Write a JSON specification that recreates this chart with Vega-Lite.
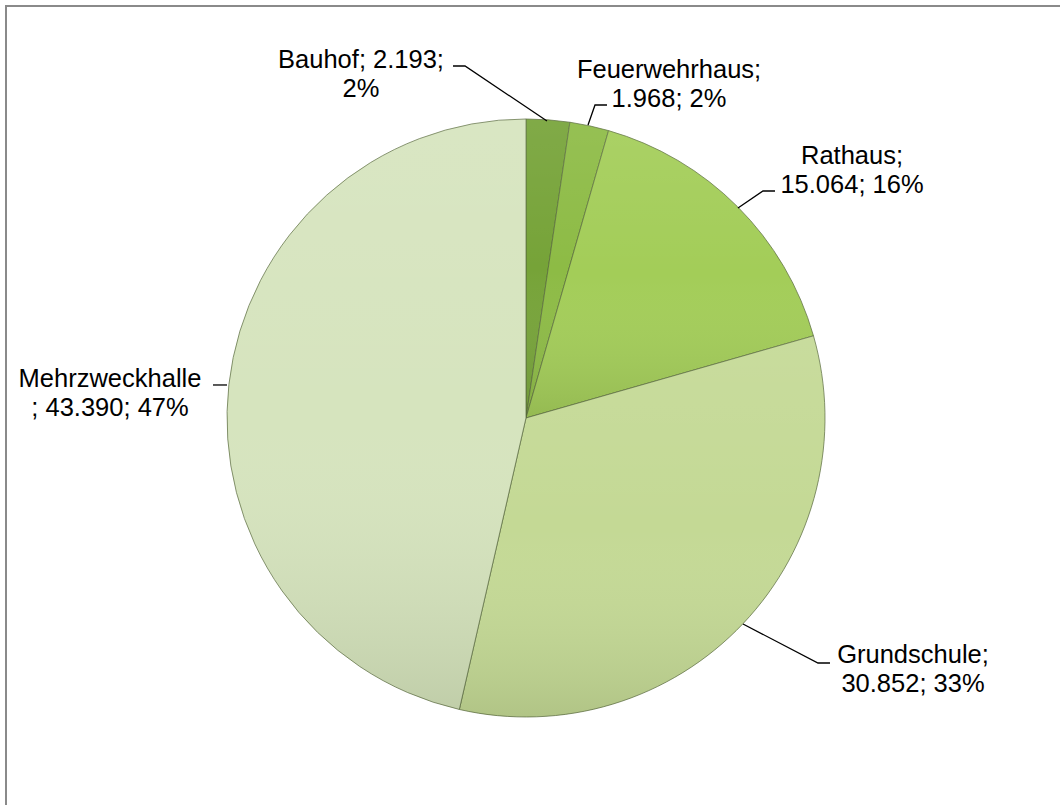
{
  "$schema": "https://vega.github.io/schema/vega-lite/v6.json",
  "width": 1060,
  "height": 805,
  "autosize": "none",
  "padding": {"left": 6, "top": 6, "right": -6, "bottom": -6},
  "background": "white",
  "config": {"view": {"stroke": "#8a8a8a", "strokeWidth": 2}},
  "datasets": {
    "slices": [
      {"name": "Bauhof", "value": 2193, "order": 1},
      {"name": "Feuerwehrhaus", "value": 1968, "order": 2},
      {"name": "Rathaus", "value": 15064, "order": 3},
      {"name": "Grundschule", "value": 30852, "order": 4},
      {"name": "Mehrzweckhalle", "value": 43390, "order": 5}
    ],
    "labels": [
      {"name": "Bauhof", "lines": ["Bauhof; 2.193;", "2%"], "u": -0.5518, "v": 1.1706},
      {"name": "Feuerwehrhaus", "lines": ["Feuerwehrhaus;", "1.968; 2%"], "u": 0.4783, "v": 1.1371},
      {"name": "Rathaus", "lines": ["Rathaus;", "15.064; 16%"], "u": 1.0903, "v": 0.8495},
      {"name": "Grundschule", "lines": ["Grundschule;", "30.852; 33%"], "u": 1.2943, "v": -0.8194},
      {"name": "Mehrzweckhalle", "lines": ["Mehrzweckhalle", "; 43.390; 47%"], "u": -1.3913, "v": 0.1037}
    ],
    "leaders": [
      {"name": "Bauhof", "seq": 1, "u": -0.2441, "v": 1.1773},
      {"name": "Bauhof", "seq": 2, "u": -0.2040, "v": 1.1773},
      {"name": "Bauhof", "seq": 3, "u": 0.0702, "v": 0.9933},
      {"name": "Feuerwehrhaus", "seq": 1, "u": 0.2709, "v": 1.0468},
      {"name": "Feuerwehrhaus", "seq": 2, "u": 0.2308, "v": 1.0468},
      {"name": "Feuerwehrhaus", "seq": 3, "u": 0.2074, "v": 0.9799},
      {"name": "Rathaus", "seq": 1, "u": 0.8328, "v": 0.7592},
      {"name": "Rathaus", "seq": 2, "u": 0.7926, "v": 0.7592},
      {"name": "Rathaus", "seq": 3, "u": 0.7090, "v": 0.7023},
      {"name": "Grundschule", "seq": 1, "u": 1.0167, "v": -0.8194},
      {"name": "Grundschule", "seq": 2, "u": 0.9766, "v": -0.8194},
      {"name": "Grundschule", "seq": 3, "u": 0.7258, "v": -0.6890},
      {"name": "Mehrzweckhalle", "seq": 1, "u": -1.0468, "v": 0.1104},
      {"name": "Mehrzweckhalle", "seq": 2, "u": -1.0000, "v": 0.1104}
    ]
  },
  "layer": [
    {
      "data": {"name": "slices"},
      "mark": {"type": "arc", "radius": 299, "stroke": "#55663a", "strokeWidth": 1, "strokeOpacity": 0.7},
      "encoding": {
        "x": {"datum": 0, "type": "quantitative", "scale": {"domain": [-1.7391, 1.806], "nice": false, "zero": false}, "axis": null},
        "y": {"datum": 0, "type": "quantitative", "scale": {"domain": [-1.3144, 1.3779], "nice": false, "zero": false}, "axis": null},
        "theta": {"field": "value", "type": "quantitative", "stack": true},
        "order": {"field": "order", "type": "quantitative", "sort": "ascending"},
        "color": {
          "field": "name", "type": "nominal",
          "scale": {"domain": ["Bauhof", "Feuerwehrhaus", "Rathaus", "Grundschule", "Mehrzweckhalle"],
                    "range": ["#76a338", "#8dbb45", "#a3cd58", "#c4d995", "#d6e4be"]},
          "legend": null
        }
      }
    },
    {
      "data": {"name": "slices"},
      "mark": {
        "type": "arc", "radius": 299, "strokeWidth": 0,
        "fill": {"gradient": "linear", "x1": 0, "y1": 0, "x2": 0, "y2": 1,
                 "stops": [{"offset": 0, "color": "rgba(255,255,255,0.08)"}, {"offset": 0.5, "color": "rgba(255,255,255,0)"}, {"offset": 1, "color": "rgba(60,70,40,0.14)"}]}
      },
      "encoding": {
        "x": {"datum": 0, "type": "quantitative", "scale": {"domain": [-1.7391, 1.806], "nice": false, "zero": false}, "axis": null},
        "y": {"datum": 0, "type": "quantitative", "scale": {"domain": [-1.3144, 1.3779], "nice": false, "zero": false}, "axis": null},
        "theta": {"field": "value", "type": "quantitative", "stack": true},
        "order": {"field": "order", "type": "quantitative", "sort": "ascending"}
      }
    },
    {
      "data": {"name": "leaders"},
      "mark": {"type": "line", "color": "black", "strokeWidth": 1.3},
      "encoding": {
        "x": {"field": "u", "type": "quantitative", "scale": {"domain": [-1.7391, 1.806], "nice": false, "zero": false}, "axis": null},
        "y": {"field": "v", "type": "quantitative", "scale": {"domain": [-1.3144, 1.3779], "nice": false, "zero": false}, "axis": null},
        "detail": {"field": "name", "type": "nominal"},
        "order": {"field": "seq", "type": "quantitative"}
      }
    },
    {
      "data": {"name": "labels"},
      "mark": {"type": "text", "font": "Liberation Sans", "fontSize": 25.5, "lineHeight": 29, "align": "center", "baseline": "alphabetic", "color": "black"},
      "encoding": {
        "x": {"field": "u", "type": "quantitative", "scale": {"domain": [-1.7391, 1.806], "nice": false, "zero": false}, "axis": null},
        "y": {"field": "v", "type": "quantitative", "scale": {"domain": [-1.3144, 1.3779], "nice": false, "zero": false}, "axis": null},
        "text": {"field": "lines"}
      }
    }
  ]
}
